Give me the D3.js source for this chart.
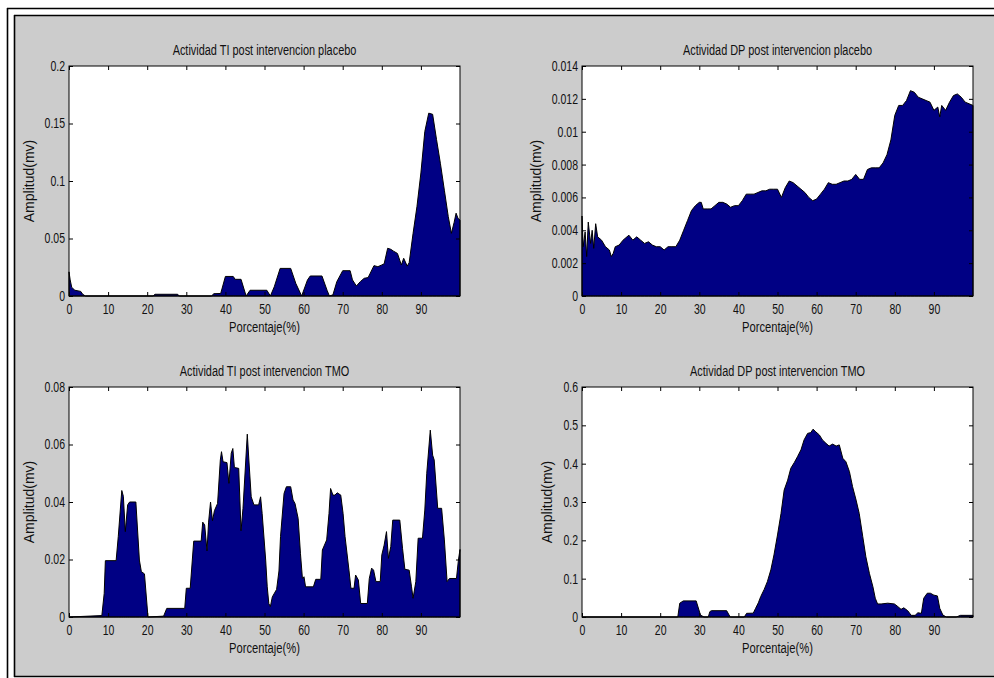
<!DOCTYPE html>
<html>
<head>
<meta charset="utf-8">
<script src="https://cdn.jsdelivr.net/npm/d3@7"></script>
<style>
  body { margin: 0; background: #fff; }
  svg { display: block; }
  text { font-family: "Liberation Sans", Arial, sans-serif; fill: #111; }
</style>
</head>
<body>
<div class="canvas"></div>
<script>
// x ticks (percent), shared by every panel
const xTicks = [0, 10, 20, 30, 40, 50, 60, 70, 80, 90];

// Actividad TI post intervencion placebo
const pctTiPlacebo = [0, 0.3, 0.7, 1.5, 3, 3.5, 4.2, 21.5, 22, 27.8, 28.2, 36.5, 37, 38.8, 40, 42, 42.5, 44, 45.3, 46.3, 50.6, 51.5, 52.5, 54, 56.7, 58, 59.5, 61, 61.7, 64.7, 66, 66.6, 67.5, 68.5, 70, 71.9, 72.5, 73.5, 74.5, 75.5, 76.5, 78, 79, 80, 80.6, 81.5, 82.3, 83, 84, 85, 85.6, 86.5, 87, 88, 89, 90, 91, 92, 93, 94, 95, 96, 97, 97.8, 98.5, 99, 99.5, 100];
const ampTiPlacebo = [0.021, 0.014, 0.0075, 0.005, 0.004, 0.0015, 0, 0, 0.0015, 0.0015, 0, 0, 0.002, 0.0022, 0.017, 0.017, 0.0145, 0.0145, 0, 0.005, 0.005, 0, 0.008, 0.024, 0.024, 0.011, 0, 0.014, 0.0174, 0.0174, 0.005, 0, 0.001, 0.0125, 0.022, 0.022, 0.014, 0.0087, 0.0125, 0.0154, 0.016, 0.0264, 0.0255, 0.027, 0.028, 0.0415, 0.0406, 0.039, 0.037, 0.027, 0.0328, 0.026, 0.029, 0.0545, 0.078, 0.107, 0.143, 0.159, 0.158, 0.136, 0.115, 0.092, 0.069, 0.0545, 0.064, 0.072, 0.0675, 0.066];
const yTicksTiPlacebo = [0, 0.05, 0.1, 0.15, 0.2];

// Actividad DP post intervencion placebo
const pctDpPlacebo = [0, 0.3, 0.8, 1.2, 1.6, 2.2, 2.6, 3, 3.5, 4, 5, 6, 7, 7.5, 8, 8.5, 9.5, 10.5, 11.5, 12, 13, 14, 15, 16, 17, 18, 19, 20, 21, 22, 23, 24, 25, 26, 27, 28, 29, 30, 30.5, 31, 32, 33, 34, 35, 36, 37, 38, 39, 40, 41, 42, 43, 44, 45, 46, 47, 48, 49, 50, 51, 52, 53, 54, 55, 56, 57, 58, 59, 60, 61, 62, 63, 64, 65, 66, 67, 68, 69, 70, 71, 72, 73, 74, 75, 76, 77, 78, 79, 80, 81, 82, 83, 84, 85, 86, 87, 88, 89, 90, 91, 91.5, 92, 93, 94, 95, 96, 97, 98, 99, 100];
const ampDpPlacebo = [0.00487, 0.003, 0.0039, 0.0024, 0.0045, 0.0032, 0.004, 0.0029, 0.0044, 0.0036, 0.0034, 0.003, 0.0028, 0.0024, 0.0026, 0.003, 0.0031, 0.0034, 0.0036, 0.0037, 0.0034, 0.0036, 0.0034, 0.0032, 0.0033, 0.0031, 0.003, 0.003, 0.0028, 0.003, 0.003, 0.003, 0.0034, 0.004, 0.0046, 0.0052, 0.0055, 0.0057, 0.0057, 0.0053, 0.0053, 0.0053, 0.0055, 0.0057, 0.0057, 0.0056, 0.0054, 0.0055, 0.0055, 0.0058, 0.0062, 0.0062, 0.0062, 0.0063, 0.0064, 0.0064, 0.0065, 0.0065, 0.0065, 0.006, 0.0066, 0.007, 0.0069, 0.0067, 0.0065, 0.0063, 0.006, 0.0058, 0.0059, 0.0062, 0.0065, 0.0069, 0.0068, 0.0068, 0.0069, 0.007, 0.007, 0.0071, 0.0074, 0.0071, 0.0071, 0.0077, 0.0078, 0.0078, 0.0078, 0.0081, 0.0086, 0.0095, 0.011, 0.0116, 0.0116, 0.0119, 0.0125, 0.0124, 0.0121, 0.012, 0.0119, 0.0118, 0.0113, 0.0115, 0.0109, 0.0116, 0.0113, 0.0118, 0.0122, 0.0123, 0.0121, 0.0118, 0.0117, 0.0116];
const yTicksDpPlacebo = [0, 0.002, 0.004, 0.006, 0.008, 0.01, 0.012, 0.014];

// Actividad TI post intervencion TMO
const pctTiTmo = [0, 8.4, 9.0, 9.3, 12.05, 12.6, 13.5, 13.9, 14.4, 15.0, 15.5, 17.1, 18.0, 18.5, 19.3, 20.2, 24.2, 25.0, 29.6, 30.0, 31.0, 31.9, 33.8, 34.2, 34.7, 35.3, 35.7, 36.2, 36.7, 37.2, 38.0, 38.7, 39.0, 39.4, 40.4, 40.9, 41.5, 41.9, 42.3, 43.4, 44.0, 44.5, 45.6, 46.0, 46.6, 47.3, 48.5, 49.0, 49.4, 50.3, 50.7, 51.1, 51.5, 52.0, 53.1, 53.7, 54.1, 55.0, 55.6, 56.7, 57.3, 57.8, 58.6, 59.2, 59.7, 60.1, 60.5, 62.5, 63.1, 64.4, 64.8, 65.9, 66.5, 66.9, 67.5, 68.0, 68.6, 69.5, 70.1, 70.6, 71.6, 72.1, 72.9, 73.3, 74.0, 74.6, 76.3, 76.8, 77.4, 77.9, 78.5, 79.6, 80.0, 80.6, 81.2, 81.7, 82.3, 82.8, 84.6, 85.3, 85.9, 87.0, 87.6, 88.0, 88.7, 89.3, 90.4, 91.0, 91.5, 92.4, 93.0, 93.4, 94.3, 95.3, 96.0, 96.7, 97.3, 99.1, 99.6, 100];
const ampTiTmo = [0, 0.0005, 0.0082, 0.0196, 0.0196, 0.028, 0.044, 0.042, 0.0297, 0.039, 0.040, 0.040, 0.0198, 0.0158, 0.015, 0, 0.0003, 0.003, 0.003, 0.01, 0.01, 0.0264, 0.0264, 0.033, 0.032, 0.023, 0.033, 0.040, 0.0335, 0.037, 0.0395, 0.0546, 0.0575, 0.054, 0.0537, 0.0465, 0.057, 0.0586, 0.052, 0.0517, 0.030, 0.0378, 0.0636, 0.0546, 0.0418, 0.039, 0.039, 0.0418, 0.036, 0.0198, 0.0105, 0.0047, 0.0036, 0.007, 0.0096, 0.016, 0.028, 0.043, 0.0453, 0.0453, 0.0407, 0.0395, 0.0343, 0.022, 0.0134, 0.014, 0.0105, 0.0105, 0.0131, 0.0131, 0.0233, 0.0268, 0.036, 0.0447, 0.0424, 0.0424, 0.0432, 0.0424, 0.036, 0.028, 0.0163, 0.01, 0.01, 0.0146, 0.0129, 0.0047, 0.0047, 0.0134, 0.017, 0.0163, 0.0123, 0.0123, 0.0216, 0.025, 0.0297, 0.0204, 0.0245, 0.0337, 0.0337, 0.0239, 0.0166, 0.0163, 0.0105, 0.0065, 0.0123, 0.0274, 0.0274, 0.0372, 0.05, 0.065, 0.0563, 0.0546, 0.0378, 0.0378, 0.0268, 0.0123, 0.0134, 0.0134, 0.0198, 0.0235];
const yTicksTiTmo = [0, 0.02, 0.04, 0.06, 0.08];

// Actividad DP post intervencion TMO
const pctDpTmo = [0, 24.5, 25.0, 25.9, 29.2, 30.3, 31.2, 32.3, 32.7, 33.1, 37.0, 37.9, 41.5, 42.1, 43.8, 44.4, 45.1, 45.7, 46.6, 47.4, 48.3, 49.1, 50.0, 50.9, 51.7, 52.6, 53.4, 54.3, 55.1, 56.0, 56.8, 57.7, 58.5, 59.1, 59.8, 60.7, 61.5, 62.4, 63.2, 64.1, 65.0, 65.8, 66.7, 67.5, 68.4, 69.2, 70.1, 70.9, 71.8, 72.6, 73.5, 74.4, 75.0, 75.6, 76.5, 78.2, 79.9, 80.8, 81.6, 82.3, 83.3, 84.2, 85.2, 85.9, 86.8, 87.4, 88.3, 89.1, 90.0, 90.9, 91.5, 92.3, 93.2, 95.7, 96.8, 100];
const ampDpTmo = [0, 0, 0.036, 0.042, 0.042, 0.005, 0, 0, 0.014, 0.0165, 0.0165, 0, 0, 0.0096, 0.01, 0.0226, 0.037, 0.053, 0.072, 0.092, 0.123, 0.162, 0.214, 0.27, 0.331, 0.357, 0.388, 0.403, 0.418, 0.436, 0.462, 0.479, 0.481, 0.49, 0.483, 0.475, 0.462, 0.453, 0.446, 0.451, 0.446, 0.449, 0.414, 0.405, 0.379, 0.34, 0.305, 0.27, 0.21, 0.157, 0.114, 0.079, 0.049, 0.034, 0.034, 0.036, 0.034, 0.027, 0.02, 0.024, 0.0165, 0.0043, 0.0043, 0.011, 0.0096, 0.049, 0.062, 0.062, 0.057, 0.055, 0.0226, 0.005, 0, 0, 0.0043, 0.0043];
const yTicksDpTmo = [0, 0.1, 0.2, 0.3, 0.4, 0.5, 0.6];

const dims = { width: 994, height: 678, plotW: 391, plotH: 230 };

const panels = [
  { title: "Actividad TI post intervencion placebo", x: pctTiPlacebo, y: ampTiPlacebo, ticks: yTicksTiPlacebo, left: 69, top: 66 },
  { title: "Actividad DP post intervencion placebo", x: pctDpPlacebo, y: ampDpPlacebo, ticks: yTicksDpPlacebo, left: 582, top: 66 },
  { title: "Actividad TI post intervencion TMO", x: pctTiTmo, y: ampTiTmo, ticks: yTicksTiTmo, left: 69, top: 387 },
  { title: "Actividad DP post intervencion TMO", x: pctDpTmo, y: ampDpTmo, ticks: yTicksDpTmo, left: 582, top: 387 },
];

// squeeze text horizontally, the way the narrow screen font looks
const narrow = (sel, k) => {
  sel.each(function () {
    const w = this.getComputedTextLength();
    d3.select(this).attr("textLength", w * k).attr("lengthAdjust", "spacingAndGlyphs");
  });
};

const svg = d3
  .select(".canvas")
  .append("svg")
  .attr("width", dims.width)
  .attr("height", dims.height);

// figure frame: white margin, double black border, grey face
svg.append("rect").attr("width", dims.width).attr("height", dims.height).attr("fill", "#fff");
svg.append("rect").attr("x", 15).attr("y", 16).attr("width", dims.width - 15).attr("height", 660).attr("fill", "#cccccc");
const frame = [
  [7.5, 8, 7.5, 678],
  [7, 8.5, 994, 8.5],
  [14.5, 15, 14.5, 677],
  [14, 15.5, 994, 15.5],
  [14, 676.5, 994, 676.5],
];
svg.selectAll("line.frame")
  .data(frame)
  .enter()
  .append("line")
  .attr("class", "frame")
  .attr("x1", (d) => d[0]).attr("y1", (d) => d[1])
  .attr("x2", (d) => d[2]).attr("y2", (d) => d[3])
  .attr("stroke", "#000")
  .attr("stroke-width", 1.6);

panels.forEach((p) => {
  const g = svg.append("g").attr("transform", `translate(${p.left}, ${p.top})`);

  const x = d3.scaleLinear().domain([0, 100]).range([0, dims.plotW]);
  const y = d3.scaleLinear().domain([0, p.ticks[p.ticks.length - 1]]).range([dims.plotH, 0]);
  const pts = p.x.map((v, i) => [v, p.y[i]]);

  g.append("rect").attr("width", dims.plotW).attr("height", dims.plotH).attr("fill", "#fff");

  const area = d3.area().x((d) => x(d[0])).y0(y(0)).y1((d) => y(d[1]));
  g.append("path")
    .datum(pts)
    .attr("d", area)
    .attr("fill", "#000084")
    .attr("stroke", "#000")
    .attr("stroke-width", 1)
    .attr("stroke-linejoin", "round");

  const fmt = d3.format("~g");

  // bottom axis with labels, ticks pointing inside
  const xb = g.append("g")
    .attr("transform", `translate(0, ${dims.plotH})`)
    .call(d3.axisBottom(x).tickValues(xTicks).tickFormat(fmt).tickSizeInner(-4).tickSizeOuter(0).tickPadding(8));
  // top axis: ticks only
  const xt = g.append("g")
    .call(d3.axisTop(x).tickValues(xTicks).tickFormat("").tickSizeInner(-4).tickSizeOuter(0));
  // left axis with labels
  const yl = g.append("g")
    .call(d3.axisLeft(y).tickValues(p.ticks).tickFormat(fmt).tickSizeInner(-4).tickSizeOuter(0).tickPadding(4));
  // right axis: ticks only
  const yr = g.append("g")
    .attr("transform", `translate(${dims.plotW}, 0)`)
    .call(d3.axisRight(y).tickValues(p.ticks).tickFormat("").tickSizeInner(-4).tickSizeOuter(0));

  [xb, xt, yl, yr].forEach((a) => {
    a.select(".domain").remove();
    a.selectAll("line").attr("stroke", "#000");
    a.selectAll("text").attr("font-size", 14).attr("font-family", null).attr("fill", "#111");
  });
  narrow(xb.selectAll("text"), 0.75);
  narrow(yl.selectAll("text"), 0.75);

  // axes box
  g.append("rect")
    .attr("width", dims.plotW)
    .attr("height", dims.plotH)
    .attr("fill", "none")
    .attr("stroke", "#000")
    .attr("stroke-width", 1);

  g.append("text")
    .attr("x", dims.plotW / 2)
    .attr("y", -11)
    .attr("text-anchor", "middle")
    .attr("font-size", 14)
    .text(p.title)
    .call(narrow, 0.78);

  g.append("text")
    .attr("x", dims.plotW / 2)
    .attr("y", dims.plotH + 35.5)
    .attr("text-anchor", "middle")
    .attr("font-size", 14)
    .text("Porcentaje(%)")
    .call(narrow, 0.8);

  // y label sits just left of the widest tick label
  const tickLeft = yl.node().getBBox().x;
  g.append("text")
    .attr("transform", `translate(${tickLeft - 11}, ${dims.plotH / 2}) rotate(-90)`)
    .attr("text-anchor", "middle")
    .attr("font-size", 14)
    .text("Amplitud(mv)");
});
</script>
</body>
</html>
